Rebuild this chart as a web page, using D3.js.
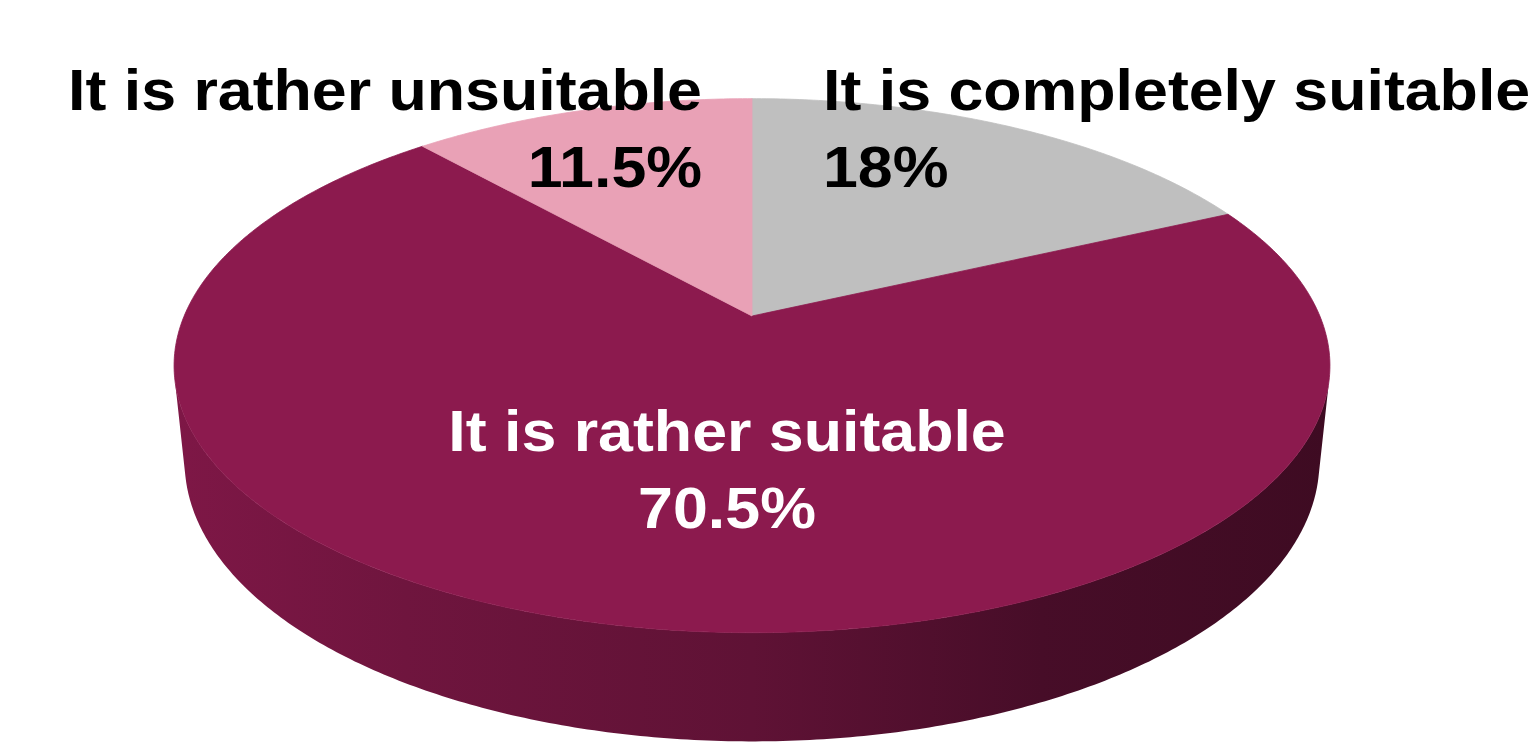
<!DOCTYPE html>
<meta charset="utf-8">
<style>
body { margin: 0; background: #fff; }
.label { font-family: "Liberation Sans", Arial, sans-serif; font-weight: bold; font-size: 57px; }
</style>
<svg width="1537" height="746"></svg>
<script src="https://cdn.jsdelivr.net/npm/d3@7"></script>
<script>

var categories = ["It is completely suitable", "It is rather suitable", "It is rather unsuitable"],
    values = [18, 70.5, 11.5],
    colors = ["#bfbfbf", "#8c1a4e", "#e9a1b6"],
    textColors = ["#000", "#fff", "#000"];

var svg = d3.select("svg"),
    cx = 752, cy = 316,
    tilt = 27 * Math.PI / 180,
    dist = 4.79, focal = 2720, depth = 0.19;

// perspective projection of a point on the pie (unit radius), h = height below top
function proj(theta, r, h) {
  var px = r * Math.sin(theta), pz = r * Math.cos(theta), py = -h,
      v = pz * Math.sin(tilt) + py * Math.cos(tilt),
      w = dist + pz * Math.cos(tilt) - py * Math.sin(tilt);
  return [cx + focal * px / w, cy - focal * v / w];
}

function arcPoints(a0, a1, h) {
  var n = Math.max(2, Math.ceil((a1 - a0) / 0.01)), pts = [];
  for (var i = 0; i <= n; i++) pts.push(proj(a0 + (a1 - a0) * i / n, 1, h));
  return pts;
}

var pie = d3.pie().sort(null).value(function(d) { return d; });
var arcs = pie(values);
var line = d3.line();

// visible part of the side wall
var cosLim = -1 / (dist * Math.cos(tilt)),
    vis0 = Math.acos(cosLim), vis1 = 2 * Math.PI - vis0;

var defs = svg.append("defs");
var left = proj(vis1, 1, 0)[0], right = proj(vis0, 1, 0)[0];

arcs.forEach(function(d, i) {
  var c = d3.color(colors[i]);
  var g = defs.append("linearGradient")
      .attr("id", "side" + i)
      .attr("gradientUnits", "userSpaceOnUse")
      .attr("x1", left).attr("x2", right)
      .attr("y1", 0).attr("y2", 0);
  [[0, 0.3], [0.2, 0.65], [0.5, 1.1], [0.75, 1.9], [1, 2.3]].forEach(function(s) {
    g.append("stop").attr("offset", s[0]).attr("stop-color", c.darker(s[1]).formatHex());
  });
});

var sideG = svg.append("g");
arcs.forEach(function(d, i) {
  var a0 = Math.max(d.startAngle, vis0), a1 = Math.min(d.endAngle, vis1);
  if (a1 <= a0) return;
  var pts = arcPoints(a0, a1, 0).concat(arcPoints(a0, a1, depth).reverse());
  sideG.append("path")
      .attr("d", line(pts) + "Z")
      .attr("fill", "url(#side" + i + ")");
});

var topG = svg.append("g");
arcs.forEach(function(d, i) {
  var pts = [proj(0, 0, 0)].concat(arcPoints(d.startAngle, d.endAngle, 0));
  topG.append("path")
      .attr("d", line(pts) + "Z")
      .attr("fill", colors[i])
      .attr("stroke", colors[i])
      .attr("stroke-width", 0.8);
});

// label layout: offsets from pie centre
var labelLayout = [
  {dx: 71, dy: -206, anchor: "start"},
  {dx: -25, dy: 135, anchor: "middle"},
  {dx: -50, dy: -206, anchor: "end"}
];

var labels = svg.append("g");
arcs.forEach(function(d, i) {
  var L = labelLayout[i];
  var t = labels.append("text")
      .attr("class", "label")
      .attr("transform", "translate(" + (cx + L.dx) + "," + (cy + L.dy) + ") scale(1.1,1)")
      .attr("text-anchor", L.anchor)
      .attr("fill", textColors[i]);
  t.append("tspan").attr("x", 0).attr("y", 0).text(categories[i]);
  t.append("tspan").attr("x", 0).attr("y", 77).text(d3.format(".3~g")(values[i]) + "%");
});

</script>
